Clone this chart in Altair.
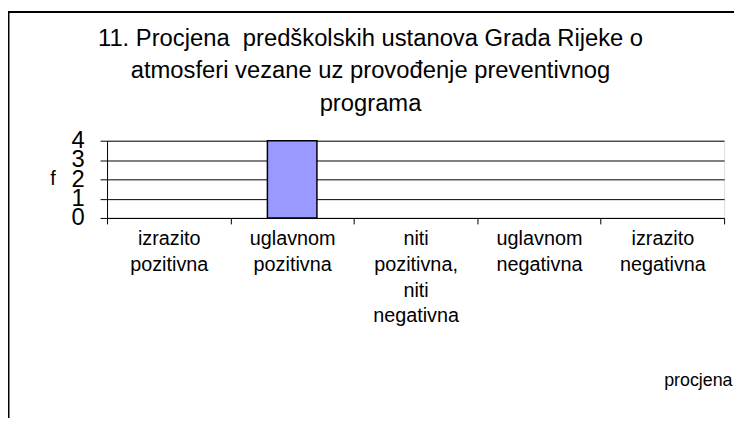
import altair as alt
import pandas as pd

categories = [
    "izrazito pozitivna",
    "uglavnom pozitivna",
    "niti pozitivna, niti negativna",
    "uglavnom negativna",
    "izrazito negativna",
]
values = [0, 4, 0, 0, 0]
y_ticks = [0, 1, 2, 3, 4]
title_lines = [
    "11. Procjena \u00a0predškolskih ustanova Grada Rijeke o",
    "atmosferi vezane uz provođenje preventivnog",
    "programa",
]

FONT = "Liberation Sans"

df = pd.DataFrame({"procjena": categories, "f": values})

bars = alt.Chart(df).mark_bar(
    size=50, color="#9999FF", stroke="#000000", strokeWidth=1.5
).encode(
    x=alt.X(
        "procjena:N",
        sort=categories,
        scale=alt.Scale(paddingInner=0, paddingOuter=0),
        axis=alt.Axis(
            title="procjena",
            titleAnchor="end",
            titleAlign="right",
            titleBaseline="middle",
            titleX=631,
            titleY=164,
            titleFontSize=18,
            titleFontWeight="normal",
            titleFont=FONT,
            titleColor="#000000",
            labelAngle=0,
            labelExpr="split(datum.label, ' ')",
            labelFont=FONT,
            labelFontSize=20,
            labelLineHeight=26,
            labelColor="#000000",
            labelPadding=5,
            labelLimit=0,
            tickBand="extent",
            tickSize=6,
            tickColor="#000000",
            domainColor="#000000",
            grid=False,
        ),
    ),
    y=alt.Y(
        "f:Q",
        scale=alt.Scale(domain=[0, 4], nice=False),
        axis=alt.Axis(
            title="f",
            titleAngle=0,
            titleAlign="center",
            titleBaseline="middle",
            titleX=-55,
            titleY=38,
            titleFontSize=20,
            titleFontWeight="normal",
            titleFont=FONT,
            titleColor="#000000",
            values=y_ticks,
            format="d",
            labelFont=FONT,
            labelFontSize=24,
            labelColor="#000000",
            labelOverlap=False,
            labelFlush=False,
            labelPadding=16,
            tickSize=7,
            tickColor="#000000",
            domainColor="#000000",
            gridColor="#000000",
            gridOpacity=1,
            gridWidth=1,
        ),
    ),
    strokeOpacity=alt.condition("datum.f > 0", alt.value(1), alt.value(0)),
)

frame_df = pd.DataFrame({"k": [0]})
title_text = alt.Chart(frame_df).mark_text(
    text=title_lines,
    font=FONT,
    fontSize=24,
    lineHeight=33,
    align="center",
    baseline="top",
    color="#000000",
).encode(x=alt.value(266), y=alt.value(-115))

top_border = alt.Chart(frame_df).mark_rule(color="#000000", strokeWidth=2).encode(
    x=alt.value(-101), x2=alt.value(700), y=alt.value(-130)
)
left_border = alt.Chart(frame_df).mark_rule(color="#000000", strokeWidth=2).encode(
    x=alt.value(-99.5), y=alt.value(-131), y2=alt.value(320)
)

chart = alt.layer(bars, title_text, top_border, left_border).properties(
    width=623,
    height=78,
    padding={"left": 100, "top": 132, "right": 10, "bottom": 200},
    autosize=alt.AutoSizeParams(type="none"),
).configure_view(stroke="#808080", strokeWidth=2).configure(background="#ffffff")

chart.save("out.html", embed_options={"renderer": "svg", "actions": False})
